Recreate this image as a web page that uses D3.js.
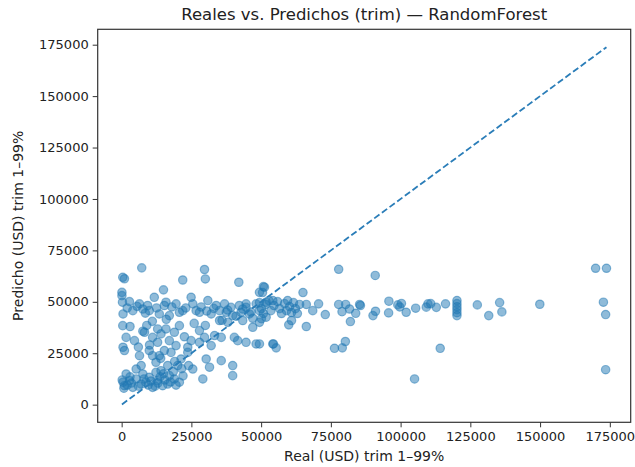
<!DOCTYPE html>
<html>
<head>
<meta charset="utf-8">
<script src="https://cdn.jsdelivr.net/npm/d3@7"></script>
<style>
  body { margin: 0; background: #fff; }
  text { font-family: "DejaVu Sans", sans-serif; fill: #222; }
</style>
</head>
<body>
<svg id="scatter" width="635" height="467"></svg>
<script>
// real values (thousands USD)
var real = [
  7.2, 1.0, 0.4, 29.7, 30.0, 21.9, 42.0, 50.8, 15.0, 0.1, 49.4,
  0.1, 0.3, 2.8, 6.4, 9.3, 11.7, 15.3, 15.9, 19.5, 24.9, 25.5, 30.9, 33.9, 36.9, 39.2, 42.2, 44.6, 48.2, 51.8, 54.2,
  0.5, 4.0, 7.6, 9.9, 13.5, 17.1, 20.7, 21.9, 26.7, 27.9, 32.1, 35.1, 37.5, 39.8, 42.8, 45.8, 49.4, 51.8,
  43.4, 44.6, 46.4, 41.0, 38.0, 47.0, 36.0, 33.0, 28.5, 23.0, 18.0, 12.5, 5.5, 2.0, 8.5, 30.5,
  0.4, 7.6, 12.9, 20.7, 35.1, 38.1, 43.4, 47.0, 49.4,
  1.6, 0.5, 4.6, 8.2, 11.1, 12.9, 14.1, 15.9, 17.1, 18.9, 19.5, 23.7, 24.9, 27.9, 27.9, 29.7, 32.1, 33.3, 35.7, 40.4, 41.6, 44.6, 48.2, 54.2,
  1.0, 6.4, 9.9, 11.1, 12.3, 13.5, 14.1, 15.3, 17.7, 20.1, 21.3, 23.7, 25.5, 30.3, 31.5, 29.1, 35.7, 39.8, 39.8, 7.0, 5.2,
  0.5, 1.0, 2.8, 4.0, 5.2, 7.0, 8.7, 9.9, 11.1, 12.9, 14.7, 16.5, 18.9, 20.7, 1.6, 7.6, 12.3, 17.1,
  0.2, 0.8, 3.5, 13.8, 15.5, 10.5, 12.0, 22.0, 19.0, 16.5, 14.0, 6.0, 10.0, 3.0, 11.0, 9.0, 16.0, 26.0, 30.0, 22.5,
  2.0, 6.0, 9.5, 13.0, 17.5, 19.5, 3.0, 8.0, 15.0, 18.5, 21.5, 24.0,
  77.8, 90.9, 65.0, 51.2, 50.5, 66.2, 68.5, 70.6, 73.0, 77.8, 79.0, 80.3, 81.7, 82.0, 83.9, 85.3, 85.6, 90.1, 91.0,
  95.8, 95.7, 99.0, 99.7, 100.3, 102.0, 105.4, 109.8, 109.2, 59.9, 66.2, 49.4, 54.4, 55.4, 76.3, 79.1, 80.2, 105.0,
  49.4, 50.1, 50.8, 50.1, 51.6, 52.8, 53.5, 54.6, 55.9, 56.6, 57.3, 58.4, 59.1, 59.5, 60.2, 60.9, 61.6, 62.3, 63.0, 63.8, 60.9,
  110.8, 112.8, 116.1, 120.2, 120.2, 120.2, 120.2, 120.2, 120.2, 127.5, 131.6, 135.5, 136.3, 149.9, 169.9, 173.8, 172.7, 173.5, 114.2, 173.5
];

// predicted values (thousands USD)
var pred = [
  66.5, 61.2, 61.9, 65.7, 61.1, 60.6, 59.5, 57.4, 55.8, 54.6, 54.6,
  53.0, 49.8, 50.1, 49.0, 48.2, 52.2, 48.2, 49.8, 49.0, 52.2, 49.0, 50.6, 48.2, 49.0, 47.3, 48.2, 49.0, 49.0, 49.8, 50.6,
  44.1, 45.7, 46.5, 45.7, 44.1, 43.3, 44.9, 45.7, 45.7, 44.9, 44.1, 45.7, 44.9, 43.3, 44.9, 44.1, 45.7, 42.5,
  46.5, 47.3, 45.0, 43.0, 46.0, 42.0, 41.0, 46.8, 47.5, 47.0, 47.5, 47.0, 47.8, 47.0, 44.5, 45.5,
  38.4, 35.7, 36.8, 38.4, 40.9, 40.0, 40.9, 37.6, 40.0,
  32.7, 27.9, 31.1, 35.2, 32.7, 30.3, 34.4, 36.8, 31.1, 35.2, 28.7, 27.9, 31.1, 36.0, 30.3, 32.7, 28.7, 33.6, 32.7, 32.7, 31.1, 30.3, 29.5, 29.5,
  26.3, 23.8, 26.3, 23.8, 20.6, 23.8, 16.5, 26.3, 25.4, 19.0, 22.2, 25.4, 17.3, 22.2, 18.2, 12.5, 21.4, 19.0, 14.1, 19.0, 17.3,
  10.9, 9.2, 11.7, 8.4, 12.5, 10.0, 10.9, 13.3, 8.4, 11.7, 9.2, 10.0, 12.5, 10.9, 14.9, 14.9, 15.7, 14.1,
  12.0, 8.0, 10.5, 13.5, 12.0, 11.5, 9.0, 14.0, 21.0, 19.0, 22.5, 28.0, 29.0, 38.0, 40.5, 38.5, 41.5, 39.5, 38.5, 33.0,
  9.5, 9.0, 9.5, 10.5, 11.0, 9.5, 13.5, 12.5, 15.0, 16.0, 17.5, 19.0,
  65.8, 62.8, 54.5, 57.1, 54.5, 48.7, 45.7, 49.0, 43.8, 48.7, 45.2, 48.7, 46.5, 40.4, 44.4, 48.7, 48.2, 43.3, 45.4,
  50.3, 44.6, 48.5, 47.5, 49.2, 44.9, 46.9, 49.0, 47.4, 38.8, 38.0, 29.5, 29.5, 27.6, 27.4, 27.6, 30.7, 12.5,
  49.6, 46.7, 44.3, 41.8, 48.7, 50.6, 45.7, 48.2, 50.1, 46.7, 44.3, 49.1, 45.7, 50.6, 47.7, 44.8, 49.6, 46.7, 44.3, 48.7, 40.9,
  49.1, 47.3, 49.0, 50.6, 49.1, 47.6, 46.2, 44.7, 43.3, 48.5, 43.3, 49.6, 45.1, 48.8, 66.3, 66.3, 49.8, 43.8, 27.4, 17.0
];

var ticks = [0, 25000, 50000, 75000, 100000, 125000, 150000, 175000];

var title = "Reales vs. Predichos (trim) \u2014 RandomForest";
var xLabel = "Real (USD) trim 1\u201399%";
var yLabel = "Predicho (USD) trim 1\u201399%";

var data = real.map(function(r, i) { return { x: r * 1000, y: pred[i] * 1000 }; });

var svg = d3.select("#scatter"),
    margin = {top: 29.3, right: 4.3, bottom: 44.7, left: 97.7},
    width = +svg.attr("width") - margin.left - margin.right,
    height = +svg.attr("height") - margin.top - margin.bottom;

var g = svg.append("g")
    .attr("transform", "translate(" + margin.left + "," + margin.top + ")");

// line from min to max, and 5% margins like matplotlib
var lo = Math.min(d3.min(data, function(d) { return d.x; }), d3.min(data, function(d) { return d.y; }));
var hi = Math.max(d3.max(data, function(d) { return d.x; }), d3.max(data, function(d) { return d.y; }));
var pad = (hi - lo) * 0.05;

var x = d3.scaleLinear().domain([lo - pad, hi + pad]).range([0, width]);
var y = d3.scaleLinear().domain([lo - pad, hi + pad]).range([height, 0]);

// points
g.selectAll("circle")
    .data(data)
  .enter().append("circle")
    .attr("cx", function(d) { return x(d.x); })
    .attr("cy", function(d) { return y(d.y); })
    .attr("r", 4.2)
    .style("fill", "#1f77b4")
    .style("fill-opacity", 0.5)
    .style("stroke", "#1f77b4")
    .style("stroke-opacity", 0.5)
    .style("stroke-width", 1.2);

// identity line
g.append("line")
    .attr("x1", x(lo)).attr("y1", y(lo))
    .attr("x2", x(hi)).attr("y2", y(hi))
    .style("stroke", "#2a7db8")
    .style("stroke-width", 1.8)
    .style("stroke-dasharray", "6.5,3");

// axes
var xAxis = g.append("g")
    .attr("transform", "translate(0," + height + ")")
    .call(d3.axisBottom(x).tickValues(ticks).tickFormat(d3.format("d")).tickSizeOuter(0).tickSize(5).tickPadding(4));

var yAxis = g.append("g")
    .call(d3.axisLeft(y).tickValues(ticks).tickFormat(d3.format("d")).tickSizeOuter(0).tickSize(5).tickPadding(4));

[xAxis, yAxis].forEach(function(a) {
  a.select(".domain").remove();
  a.selectAll("line").style("stroke", "#333").style("stroke-width", 1);
  a.selectAll("text").style("font-size", "13px").style("fill", "#222");
});

// frame
g.append("rect")
    .attr("width", width).attr("height", height)
    .style("fill", "none").style("stroke", "#333").style("stroke-width", 1.2);

// labels
svg.append("text")
    .attr("x", margin.left + width / 2).attr("y", 20)
    .attr("text-anchor", "middle")
    .style("font-size", "16.5px")
    .text(title);

svg.append("text")
    .attr("x", margin.left + width / 2).attr("y", 461)
    .attr("text-anchor", "middle")
    .style("font-size", "14px")
    .text(xLabel);

svg.append("text")
    .attr("transform", "translate(23," + (margin.top + height / 2) + ") rotate(-90)")
    .attr("text-anchor", "middle")
    .style("font-size", "14px")
    .text(yLabel);
</script>
</body>
</html>
